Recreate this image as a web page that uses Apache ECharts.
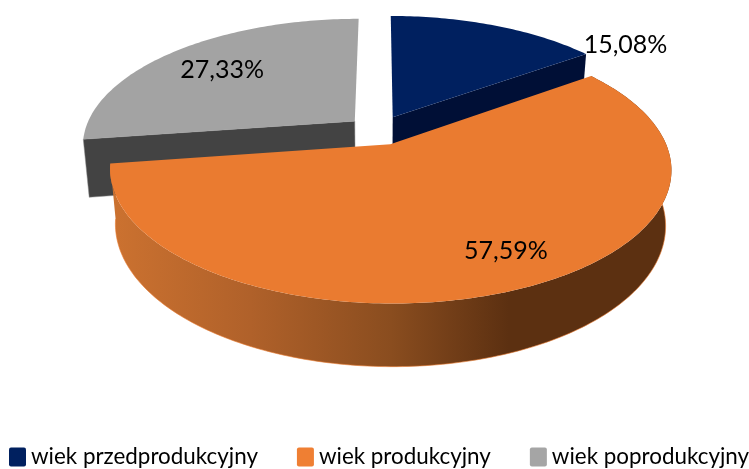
<!DOCTYPE html>
<html><head><meta charset="utf-8">
<script src="https://cdn.jsdelivr.net/npm/echarts@6/dist/echarts.min.js"></script>
<style>html,body{margin:0;padding:0;background:#fff}#c{width:749px;height:469px}</style>
</head><body><div id="c"></div>
<script>
// data
const categories = ['wiek przedprodukcyjny', 'wiek produkcyjny', 'wiek poprodukcyjny'];
const values = [15.08, 57.59, 27.33];
const colors = ['#00205F', '#EA7B30', '#A3A3A3'];
const sideColors = ['#000F36', null, '#434343'];
const legendColors = ['#00205F', '#EF7F33', '#A5A5A5'];

// 3D pie projection (perspective view of a unit disc)
const P = {x0:380, y0:132.4, a:271, b:125, k:0.1845, yb0:186, bb:132, sx:0.98};
const explodeX = [0.105, 0.1, 0.125];
const explodeY = [0.14, 0.1, 0.14];
const depthExtra = [2, 0, 4];
function projTop(X,Y){const d=1-P.k*Y;return [P.x0+P.a*X/d, P.y0+P.b*Y/d];}
function projBot(X,Y,extra){const d=1-P.k*Y;return [P.x0+P.a*P.sx*X/d, P.yb0+extra+P.bb*Y/d];}
const total = values.reduce((s,v)=>s+v,0);
const rad = d=>d*Math.PI/180;
const labelTune = [{shift:28.6,r:1.2},{shift:-4.5,r:0.80},{shift:-1,r:0.712}];

function slice(i){
  let start=0; for(let j=0;j<i;j++) start+=values[j]/total*360;
  const end=start+values[i]/total*360, mid=(start+end)/2;
  const cx=Math.sin(rad(mid))*explodeX[i], cy=-Math.cos(rad(mid))*explodeY[i];
  const rim=[]; for(let t=start;t<end;t+=1) rim.push([cx+Math.sin(rad(t)),cy-Math.cos(rad(t))]);
  rim.push([cx+Math.sin(rad(end)),cy-Math.cos(rad(end))]);
  return {start,end,mid,cx,cy,rim};
}
function render(i){
  return function(){
    const s=slice(i), kids=[], ex=depthExtra[i];
    const topPts=[projTop(s.cx,s.cy)].concat(s.rim.map(p=>projTop(p[0],p[1])));
    if(i===1){
      const up=s.rim.map(p=>projTop(p[0],p[1]));
      const lo=s.rim.map(p=>projBot(p[0],p[1],ex));
      kids.push({type:'polygon',shape:{points:up.concat(lo.slice().reverse())},
        style:{fill:new echarts.graphic.LinearGradient(0,0,1,0,[
          {offset:0,color:'#CC7230'},{offset:0.25,color:'#B0612A'},{offset:0.5,color:'#8A4D1F'},
          {offset:0.71,color:'#5C3011'},{offset:1,color:'#5C3011'}])}});
      kids.push({type:'polyline',shape:{points:lo},style:{fill:null,stroke:'#EA7B30',lineWidth:1,opacity:0.6}});
    }
    if(sideColors[i]){
      // the radial face turned towards the viewer
      const edge = i===0 ? s.rim[s.rim.length-1] : s.rim[0];
      const q=[projTop(s.cx,s.cy),projTop(edge[0],edge[1]),projBot(edge[0],edge[1],ex),projBot(s.cx,s.cy,ex)];
      kids.push({type:'polygon',shape:{points:q},style:{fill:sideColors[i],stroke:'#8a8a8a',lineWidth:i===2?0.5:0}});
    }
    kids.push({type:'polygon',shape:{points:topPts},style:{fill:colors[i]}});
    const t=labelTune[i], a=rad(s.mid+t.shift);
    const lp=projTop(s.cx+t.r*Math.sin(a),s.cy-t.r*Math.cos(a));
    kids.push({type:'text',z2:10,x:lp[0],y:lp[1],style:{
      text:values[i].toFixed(2).replace('.',',')+'%',
      font:'25px Lato',fill:'#000',align:'center',verticalAlign:'middle'}});
    return {type:'group',children:kids};
  };
}
const drawOrder=[2,0,1];
const chart=echarts.init(document.getElementById('c'),null,{renderer:'canvas'});
chart.setOption({
  animation:false,
  backgroundColor:'#fff',
  legend:{
    data:categories, left:9, top:446, width:800, padding:0, itemGap:39, itemWidth:17, itemHeight:19,
    icon:'path://M2,0H15A2,2 0 0 1 17,2V17A2,2 0 0 1 15,19H2A2,2 0 0 1 0,17V2A2,2 0 0 1 2,0Z', selectedMode:false,
    textStyle:{fontFamily:'Lato',fontSize:22.4,color:'#000',padding:0}
  },
  series:drawOrder.map(i=>({
    type:'custom', name:categories[i], coordinateSystem:'none',
    silent:true, itemStyle:{color:legendColors[i]},
    data:[values[i]], renderItem:render(i)
  }))
});
</script></body></html>
